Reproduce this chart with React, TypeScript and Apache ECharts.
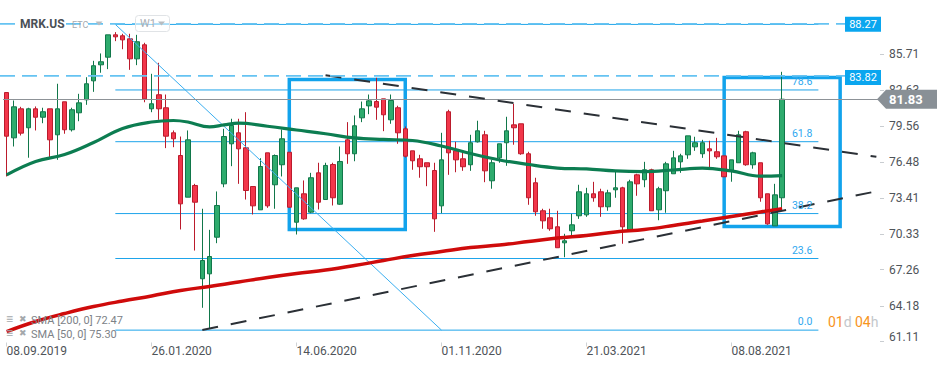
import React, { useEffect, useRef } from 'react';
import * as echarts from 'echarts';

// ---------- categories (weekly candles, W1) ----------
const startDateUTC = Date.UTC(2019, 8, 8);
const categoryCount = 121; // 108 weeks of data + empty future weeks to the right edge
const fmtDate = (t: number) => {
  const d = new Date(t);
  const dd = String(d.getUTCDate()).padStart(2, '0');
  const mm = String(d.getUTCMonth() + 1).padStart(2, '0');
  return `${dd}.${mm}.${d.getUTCFullYear()}`;
};
const categories: string[] = Array.from({ length: categoryCount }, (_, i) => fmtDate(startDateUTC + i * 7 * 86400000));
const dateTickLabels = ['08.09.2019', '26.01.2020', '14.06.2020', '01.11.2020', '21.03.2021', '08.08.2021'];

// ---------- OHLC ----------
const opens = [
  82.40, 78.53, 81.01, 79.39, 81.01, 80.29, 81.01, 78.79, 81.61, 79.22,
  80.67, 81.78, 83.40, 84.77, 85.42, 87.33, 87.25, 86.99, 85.28, 86.48,
  81.01, 82.21, 81.10, 78.96, 77.02, 73.46, 74.46, 66.49, 66.91, 70.04,
  74.60, 78.02, 78.96, 77.68, 74.37, 72.38, 77.25, 74.52, 76.23, 77.30,
  71.32, 73.75, 72.18, 75.54, 73.26, 76.25, 72.86, 78.36, 77.17, 80.24,
  81.26, 81.63, 81.86, 80.07, 81.10, 79.30, 77.42, 76.74, 76.40, 75.74,
  72.72, 80.76, 77.42, 76.74, 76.23, 78.19, 78.79, 74.86, 76.82, 78.11,
  79.64, 79.73, 77.17, 74.69, 72.30, 71.70, 70.93, 69.56, 70.59, 71.87,
  71.95, 73.75, 73.92, 72.64, 74.09, 74.26, 70.67, 75.37, 74.95, 75.80,
  72.38, 74.01, 75.46, 76.48, 77.08, 77.76, 77.17, 77.59, 77.34, 76.99,
  75.71, 76.40, 79.05, 76.23, 76.40, 73.75, 71.01, 73.41,
];
const closes = [
  78.67, 81.18, 78.93, 81.01, 80.29, 80.76, 78.36, 81.01, 79.22, 80.93,
  81.52, 83.15, 84.69, 85.03, 87.33, 87.16, 86.90, 85.28, 86.74, 81.86,
  81.44, 81.01, 78.67, 78.45, 72.89, 78.36, 73.03, 68.05, 68.39, 72.75,
  78.64, 79.58, 77.59, 74.03, 72.72, 76.08, 72.72, 77.02, 78.45, 72.60,
  74.26, 71.61, 75.12, 73.03, 76.17, 73.41, 76.51, 77.17, 79.56, 81.01,
  81.69, 81.15, 80.50, 81.72, 78.96, 76.96, 76.57, 76.06, 76.06, 71.61,
  76.65, 77.25, 76.65, 76.06, 78.11, 79.13, 75.71, 76.40, 78.02, 79.13,
  79.39, 77.17, 73.41, 72.21, 71.44, 70.76, 69.14, 69.73, 71.10, 73.92,
  73.75, 73.41, 72.64, 73.83, 74.26, 70.93, 74.77, 74.60, 75.80, 72.30,
  74.18, 76.31, 76.82, 76.99, 78.70, 78.11, 78.11, 77.42, 76.91, 75.20,
  76.65, 78.79, 76.23, 77.25, 73.41, 71.18, 73.66, 81.83,
];
const lows = [
  75.23, 77.79, 78.73, 76.83, 79.16, 79.78, 76.83, 76.65, 78.88, 79.07,
  79.95, 81.35, 82.46, 84.09, 84.40, 86.79, 86.10, 84.34, 84.74, 81.57,
  80.72, 80.07, 77.65, 77.73, 70.70, 73.46, 68.90, 64.01, 62.21, 69.53,
  74.31, 76.11, 74.60, 73.26, 71.98, 72.38, 72.55, 72.47, 75.23, 72.60,
  70.27, 71.53, 72.09, 72.41, 73.24, 72.75, 72.81, 76.31, 76.53, 79.87,
  80.55, 80.07, 79.10, 79.73, 78.02, 76.85, 75.80, 75.12, 74.40, 70.50,
  72.09, 75.37, 75.59, 75.71, 75.71, 78.13, 74.74, 74.18, 76.40, 76.14,
  77.94, 77.08, 72.81, 71.87, 70.76, 70.59, 69.14, 68.33, 69.99, 71.61,
  71.78, 73.07, 71.78, 72.30, 73.41, 69.48, 70.67, 73.58, 74.31, 72.30,
  71.49, 72.13, 75.46, 75.54, 76.74, 77.42, 76.82, 75.97, 76.74, 75.20,
  74.78, 76.40, 76.14, 75.89, 73.07, 71.10, 71.01, 72.55,
];
const highs = [
  82.40, 81.72, 81.18, 81.10, 81.21, 81.10, 81.01, 83.15, 81.61, 81.10,
  82.29, 83.71, 85.11, 85.74, 87.33, 87.56, 87.42, 87.42, 87.33, 86.65,
  84.00, 84.94, 82.23, 79.16, 78.64, 79.16, 74.60, 72.47, 70.67, 73.95,
  79.30, 80.16, 80.16, 80.72, 74.37, 76.79, 77.25, 77.11, 79.24, 77.30,
  74.26, 74.89, 75.54, 76.40, 76.40, 76.40, 77.79, 79.87, 80.44, 81.63,
  82.23, 83.66, 81.86, 82.23, 81.27, 79.50, 77.42, 77.08, 76.40, 76.40,
  78.96, 80.93, 78.19, 77.25, 78.79, 79.99, 79.13, 76.65, 78.02, 80.33,
  81.44, 79.73, 77.34, 75.12, 72.47, 72.47, 72.30, 70.33, 72.04, 74.52,
  74.26, 74.77, 74.18, 74.09, 75.63, 74.35, 74.95, 75.46, 76.48, 75.89,
  74.35, 76.48, 77.42, 77.17, 78.70, 78.62, 78.36, 78.28, 78.53, 76.99,
  76.65, 79.13, 79.13, 77.34, 76.40, 73.75, 74.60, 84.17,
];

// ---------- moving averages: [candle index, value] ----------
const sma50: [number, number][] = [
  [0, 75.37], [4, 76.51], [8, 77.10], [12, 78.13], [16, 79.33], [20, 79.88], [23, 80.01], [25, 79.88],
  [28, 79.46], [30, 79.63], [32, 79.78], [36, 79.52], [40, 79.20], [44, 78.88], [48, 78.52], [52, 78.39],
  [56, 78.30], [60, 77.83], [64, 77.19], [68, 76.64], [72, 76.25], [76, 75.95], [80, 75.87], [84, 75.70],
  [88, 75.65], [92, 75.78], [96, 75.95], [100, 75.70], [104, 75.25], [107, 75.30],
];
const sma200: [number, number][] = [
  [0, 61.98], [4, 62.84], [8, 63.52], [12, 64.12], [16, 64.59], [20, 65.02], [24, 65.49], [28, 65.83],
  [32, 66.21], [36, 66.60], [40, 66.94], [44, 67.24], [48, 67.62], [52, 68.05], [56, 68.48], [60, 68.82],
  [64, 69.16], [68, 69.37], [72, 69.67], [76, 69.97], [80, 70.19], [84, 70.49], [88, 70.70], [92, 71.04],
  [96, 71.42], [100, 71.81], [104, 72.20], [107, 72.47],
];
const smaLegend = ['SMA [200, 0] 72.47', 'SMA [50, 0] 75.30'];

// ---------- drawings ----------
const fibLabels = ['0.0', '23.6', '38.2', '61.8', '78.6', ''];
const fibValues = [62.1, 68.22, 72.06, 78.2, 82.62, 88.22];
const fibStartIdx = 15;
const fibEndIdx = 112;
const fibDiagonal: [number, number][] = [[15, 88.22], [60, 62.1]];
const trendDown: [number, number][] = [[44, 83.88], [120, 76.91]];
const trendUp: [number, number][] = [[27, 62.11], [120, 73.96]];
const boxes: [[number, number], [number, number]][] = [
  [[39, 83.51], [55, 70.70]],
  [[99, 83.69], [115, 70.96]],
];
const levelValues = [88.27, 83.82];
const lastPrice = 81.83;
const yTicks = [61.11, 64.18, 67.26, 70.33, 73.41, 76.48, 79.56, 82.63, 85.71];

const FONT = 'Roboto, "Noto Sans", sans-serif';

export default function App() {
  const ref = useRef<HTMLDivElement>(null);

  useEffect(() => {
    const chart = echarts.init(ref.current!, null, { renderer: 'svg' });

    const candleData = categories.map((_, i) =>
      i < opens.length ? [opens[i], closes[i], lows[i], highs[i]] : '-'
    );
    const toCat = (arr: [number, number][]) => arr.map(([i, v]) => [categories[i], v]);

    const fibSeries = fibValues.map((v) => ({
      type: 'line',
      data: [[categories[fibStartIdx], v], [categories[fibEndIdx], v]],
      symbol: 'none',
      silent: true,
      z: 1,
      lineStyle: { color: '#1ea4ea', width: 1 },
    }));

    const option: any = {
      animation: false,
      backgroundColor: '#ffffff',
      textStyle: { fontFamily: FONT },
      grid: { left: 3, right: 70, top: 10.5, bottom: 24.5, containLabel: false, outerBoundsMode: 'none' },
      xAxis: {
        type: 'category',
        data: categories,
        boundaryGap: true,
        axisLine: { show: false },
        splitLine: { show: false },
        axisTick: {
          show: true,
          alignWithLabel: true,
          length: 4,
          interval: (_i: number, v: string) => dateTickLabels.includes(v),
          lineStyle: { color: '#d0d3d6' },
        },
        axisLabel: {
          interval: (_i: number, v: string) => dateTickLabels.includes(v),
          align: 'left',
          margin: 2,
          color: '#4f5459',
          fontSize: 12,
          fontFamily: FONT,
        },
      },
      yAxis: {
        type: 'value',
        position: 'right',
        min: 61.044,
        max: 89.409,
        splitLine: { show: false },
        axisLine: { show: false },
        axisTick: { show: true, length: 4, customValues: yTicks, lineStyle: { color: '#c9cdd1' } },
        axisLabel: {
          customValues: yTicks,
          margin: 9,
          color: '#4f5459',
          fontSize: 12,
          fontFamily: FONT,
          formatter: (v: number) => (v < 62 ? `{low|${v.toFixed(2)}}` : v.toFixed(2)),
          rich: { low: { padding: [0, 0, 9, 0], color: '#4f5459', fontSize: 12, fontFamily: FONT } },
        },
      },
      series: [
        ...fibSeries,
        {
          type: 'candlestick',
          data: candleData,
          barWidth: 5,
          z: 2,
          itemStyle: {
            color: '#2eab6d',
            color0: '#f2364a',
            borderColor: '#11774a',
            borderColor0: '#bb1b2c',
            borderWidth: 1,
          },
          markLine: {
            symbol: 'none',
            silent: true,
            label: { show: false },
            lineStyle: { color: '#8d9297', width: 1, type: 'solid' },
            data: [{ yAxis: lastPrice }],
          },
        },
        {
          type: 'line',
          data: toCat(fibDiagonal),
          symbol: 'none',
          silent: true,
          z: 3,
          lineStyle: { color: '#3aaef0', width: 1 },
        },
        {
          type: 'line',
          data: toCat(sma200),
          smooth: 0.4,
          symbol: 'none',
          silent: true,
          z: 4,
          lineStyle: { color: '#cf0b0b', width: 3.5 },
        },
        {
          type: 'line',
          data: toCat(sma50),
          smooth: 0.4,
          symbol: 'none',
          silent: true,
          z: 4,
          lineStyle: { color: '#0c7d51', width: 3.2 },
        },
        {
          type: 'line',
          data: toCat(trendDown),
          symbol: 'none',
          silent: true,
          z: 5,
          lineStyle: { color: '#2b3036', width: 2, type: [16, 13] },
          markArea: {
            silent: true,
            itemStyle: { color: 'rgba(0,0,0,0)', borderColor: '#12a3ec', borderWidth: 3.5 },
            data: boxes.map(([a, b]) => [
              { coord: [categories[a[0]], a[1]] },
              { coord: [categories[b[0]], b[1]] },
            ]),
          },
        },
        {
          type: 'line',
          data: toCat(trendUp),
          symbol: 'none',
          silent: true,
          z: 5,
          lineStyle: { color: '#2b3036', width: 2, type: [16, 13] },
        },
      ],
    };
    chart.setOption(option);

    const py = (v: number) => chart.convertToPixel({ yAxisIndex: 0 }, v) as number;
    const px = (i: number) => chart.convertToPixel({ xAxisIndex: 0 }, categories[i]) as number;

    const elements: any[] = [];
    // fib labels
    fibValues.forEach((v, k) => {
      if (!fibLabels[k]) return;
      elements.push({
        type: 'text', z: 50, silent: true,
        x: px(fibEndIdx) - 6, y: py(v) - 8.5,
        style: { text: fibLabels[k], fill: '#2fa8ef', font: `10.5px ${FONT}`, align: 'right', verticalAlign: 'middle' },
      });
    });
    // dashed level lines with price boxes
    levelValues.forEach((v, k) => {
      const y = py(v);
      elements.push({
        type: 'line', z: 40, silent: true,
        shape: { x1: 0, y1: y, x2: 845, y2: y },
        style: { stroke: '#66c3f2', lineWidth: 1.6, lineDash: [15, 7] },
      });
      const by = y + (k === 0 ? 0.5 : 1.5);
      elements.push({
        type: 'rect', z: 60, silent: true,
        shape: { x: 845, y: by - 7.5, width: 36, height: 15 },
        style: { fill: '#0aa6ef' },
      });
      elements.push({
        type: 'text', z: 61, silent: true,
        x: 863, y: by,
        style: { text: v.toFixed(2), fill: '#ffffff', font: `11px ${FONT}`, align: 'center', verticalAlign: 'middle' },
      });
    });
    // last price arrow label
    const ly = py(lastPrice);
    elements.push({
      type: 'polygon', z: 60, silent: true,
      shape: { points: [[877, ly], [886, ly - 9.5], [937, ly - 9.5], [937, ly + 9.5], [886, ly + 9.5]] },
      style: { fill: '#899096' },
    });
    elements.push({
      type: 'text', z: 61, silent: true,
      x: 889, y: ly + 0.5,
      style: { text: lastPrice.toFixed(2), fill: '#ffffff', font: `bold 13px ${FONT}`, align: 'left', verticalAlign: 'middle' },
    });
    // header
    elements.push({
      type: 'text', z: 70, silent: true, x: 19, y: 24,
      style: { text: 'MRK.US', fill: '#4a5056', font: `bold 12px ${FONT}`, verticalAlign: 'middle', backgroundColor: '#ffffff', padding: [1, 1] },
    });
    elements.push({
      type: 'text', z: 70, silent: true, x: 72, y: 24.5,
      style: { text: 'ETC', fill: '#a5aaaf', font: `9px ${FONT}`, verticalAlign: 'middle' },
    });
    elements.push({
      type: 'polygon', z: 70, silent: true,
      shape: { points: [[95.5, 21.5], [102.5, 21.5], [99, 25.5]] },
      style: { fill: '#b8bcc0' },
    });
    elements.push({
      type: 'rect', z: 70, silent: true,
      shape: { x: 135.5, y: 15.5, width: 34, height: 16, r: 3 },
      style: { fill: 'rgba(255,255,255,0.5)', stroke: '#e0e3e6', lineWidth: 1 },
    });
    elements.push({
      type: 'text', z: 71, silent: true, x: 140, y: 23.5,
      style: { text: 'W1', fill: '#a9aeb3', font: `11px ${FONT}`, verticalAlign: 'middle' },
    });
    elements.push({
      type: 'polygon', z: 71, silent: true,
      shape: { points: [[158, 21.5], [165, 21.5], [161.5, 25.5]] },
      style: { fill: '#b8bcc0' },
    });
    // SMA legend (bottom-left)
    smaLegend.forEach((t, k) => {
      const y = 320.5 + k * 14;
      elements.push({
        type: 'text', z: 70, silent: true, x: 6, y: y - 2,
        style: { text: '≡', fill: '#a4a8ac', font: `12px ${FONT}`, verticalAlign: 'middle' },
      });
      elements.push({
        type: 'text', z: 70, silent: true, x: 19, y: y - 2,
        style: { text: '✖', fill: '#a4a8ac', font: `9px "DejaVu Sans"`, verticalAlign: 'middle' },
      });
      elements.push({
        type: 'text', z: 70, silent: true, x: 31, y,
        style: { text: t, fill: '#7d8287', font: `11px ${FONT}`, verticalAlign: 'middle' },
      });
    });
    // countdown
    elements.push({
      type: 'text', z: 70, silent: true, x: 828, y: 322,
      style: {
        text: '{o|01}{g|d} {o|04}{g|h}',
        verticalAlign: 'middle',
        rich: {
          o: { fill: '#f7941d', font: `14px ${FONT}` },
          g: { fill: '#c3c7cb', font: `14px ${FONT}` },
        },
      },
    });

    chart.setOption({ graphic: { elements } });

    return () => chart.dispose();
  }, []);

  return <div ref={ref} style={{ position: 'absolute', left: 0, top: 0, width: 950, height: 367 }} />;
}
